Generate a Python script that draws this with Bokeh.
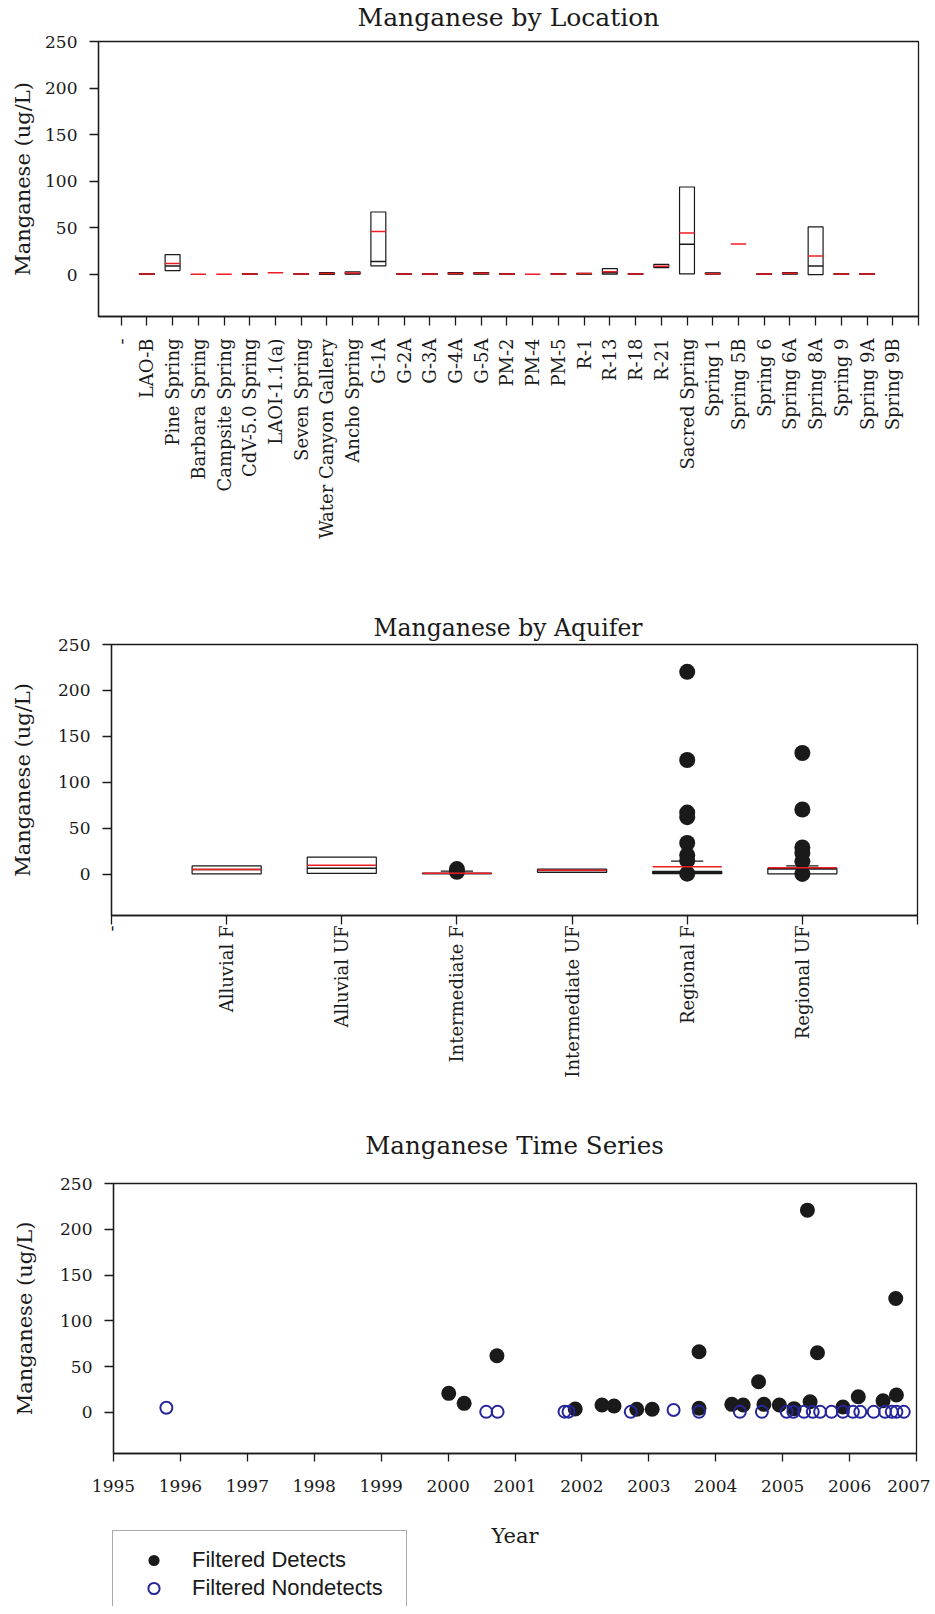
import numpy as np
from bokeh.plotting import figure
from bokeh.models import FixedTicker, Range1d, Label, Legend, LegendItem
from bokeh.embed import file_html
from bokeh.resources import INLINE

SERIF = "DejaVu Serif"
INK = "#1a1a1a"
RED = "#ec1c24"
BLUE = "#26269a"

# ---------------- data: Manganese by Location ----------------
loc_names = ["-", "LAO-B", "Pine Spring", "Barbara Spring", "Campsite Spring",
             "CdV-5.0 Spring", "LAOI-1.1(a)", "Seven Spring", "Water Canyon Gallery",
             "Ancho Spring", "G-1A", "G-2A", "G-3A", "G-4A", "G-5A", "PM-2", "PM-4",
             "PM-5", "R-1", "R-13", "R-18", "R-21", "Sacred Spring", "Spring 1",
             "Spring 5B", "Spring 6", "Spring 6A", "Spring 8A", "Spring 9",
             "Spring 9A", "Spring 9B"]
loc_q1 = [None, 0.2, 4.3, None, None, 0.2, None, 0.3, 0.2, 0.3, 9.3, 0.2, 0.2, 0.5, 0.3,
          0.2, None, 0.3, 0.4, 0.4, 0.2, 7.5, 0.7, 0.3, None, 0.2, 0.5, 0.0, 0.2, 0.3, None]
loc_median = [None, 0.5, 9.3, None, None, 0.5, None, 0.6, 1.0, 1.2, 13.9, 0.5, 0.5, 1.0, 1.2,
              0.5, None, 0.6, 0.8, 2.0, 0.5, 8.5, 32.5, 1.0, None, 0.5, 1.0, 9.3, 0.5, 0.6, None]
loc_q3 = [None, 1.0, 21.4, None, None, 1.0, None, 1.0, 2.0, 3.0, 67.1, 1.0, 1.0, 2.0, 2.2,
          1.0, None, 1.0, 1.4, 6.4, 1.0, 11.0, 93.9, 1.8, None, 1.0, 2.0, 51.1, 1.0, 1.0, None]
loc_mean = [None, 0.6, 11.8, 0.4, 0.4, 0.6, 1.8, 0.7, 1.2, 1.6, 46.1, 0.6, 0.6, 1.2, 1.5,
            0.6, 0.4, 0.7, 1.0, 3.0, 0.6, 9.0, 44.6, 0.8, 32.9, 0.6, 1.5, 20.0, 0.6, 0.7, None]

# ---------------- data: Manganese by Aquifer ----------------
aq_names = ["-", "Alluvial F", "Alluvial UF", "Intermediate F", "Intermediate UF",
            "Regional F", "Regional UF"]
aq_q1 = [None, 0.3, 0.8, 0.5, 2.0, 0.5, 0.3]
aq_median = [None, 5.0, 6.5, 0.7, 4.0, 1.8, 5.5]
aq_q3 = [None, 9.0, 18.5, 1.0, 5.4, 3.0, 6.2]
aq_mean = [None, 5.1, 9.8, 0.9, 4.3, 8.0, 6.9]
aq_upper = [None, 9.0, 18.5, 3.3, 5.4, 14.1, 9.0]
aq_out_group = ["Intermediate F", "Intermediate F",
                "Regional F", "Regional F", "Regional F", "Regional F", "Regional F",
                "Regional F", "Regional F", "Regional F",
                "Regional UF", "Regional UF", "Regional UF", "Regional UF", "Regional UF",
                "Regional UF"]
aq_out_value = [2.5, 5.5,
                220.3, 124.3, 67.0, 62.0, 33.9, 20.6, 15.0, 0.5,
                131.9, 70.4, 29.0, 23.0, 14.0, 0.3]

# ---------------- data: Manganese Time Series ----------------
det_year = [2000.01, 2000.24, 2000.73, 2001.90, 2002.30, 2002.48, 2002.82, 2003.05,
            2003.75, 2003.75, 2004.24, 2004.41, 2004.64, 2004.72, 2004.95, 2005.17,
            2005.37, 2005.41, 2005.52, 2005.90, 2006.13, 2006.50, 2006.69, 2006.70]
det_value = [20.7, 9.8, 61.8, 3.6, 8.0, 6.9, 3.3, 3.3,
             66.2, 4.4, 8.7, 8.0, 33.4, 8.7, 8.0, 4.0,
             220.9, 11.6, 65.1, 5.8, 17.0, 12.7, 124.4, 18.9]
nd_year = [1995.79, 2000.57, 2000.74, 2001.74, 2001.80, 2002.73, 2003.37, 2003.75,
           2004.36, 2004.69, 2005.06, 2005.16, 2005.32, 2005.45, 2005.56, 2005.73,
           2005.90, 2006.05, 2006.16, 2006.36, 2006.53, 2006.63, 2006.70, 2006.81]
nd_value = [5.0, 0.5, 0.5, 0.7, 0.7, 0.5, 2.5, 0.5,
            0.5, 0.5, 0.5, 0.5, 0.5, 0.5, 0.5, 0.5,
            0.5, 0.5, 0.5, 0.5, 0.5, 0.5, 0.5, 0.5]
years = list(range(1995, 2008))
y_ticks = [0, 50, 100, 150, 200, 250]

W = 930


def arr(v):
    return np.array([np.nan if a is None else a for a in v], dtype=float)


def strip_fig(height):
    s = figure(width=W, height=height, x_range=Range1d(0, W), y_range=Range1d(0, height),
               output_backend="svg", toolbar_location=None, tools="",
               x_axis_type=None, y_axis_type=None,
               min_border_top=0, min_border_bottom=0, min_border_left=0, min_border_right=0)
    s.xgrid.visible = False
    s.ygrid.visible = False
    s.outline_line_color = None
    return s


def strip_text(s, text, x, y_from_top, size):
    s.add_layout(Label(x=x, y=s.height - y_from_top, text=text, text_align="center",
                       text_baseline="middle", text_font=SERIF, text_font_size=size,
                       text_color=INK))


def base_fig(height, xr, top, bottom, left, right, title, title_standoff, ylab_standoff,
             title_size="24px", title_align="center", title_offset=0):
    p = figure(width=W, height=height, x_range=Range1d(*xr), y_range=Range1d(-45, 250),
               output_backend="svg", toolbar_location=None, tools="",
               min_border_top=top, min_border_bottom=bottom,
               min_border_left=left, min_border_right=right)
    p.xgrid.visible = False
    p.ygrid.visible = False
    p.outline_line_color = INK
    p.outline_line_width = 1.3
    p.background_fill_color = "white"
    p.border_fill_color = "white"
    p.title.text = title
    p.title.align = title_align
    p.title.offset = title_offset
    p.title.text_font = SERIF
    p.title.text_font_size = title_size
    p.title.text_font_style = "normal"
    p.title.text_color = INK
    p.title.standoff = title_standoff
    for ax in (p.xaxis[0], p.yaxis[0]):
        ax.axis_line_color = INK
        ax.axis_line_width = 1.3
        ax.major_tick_line_color = INK
        ax.major_tick_line_width = 1.3
        ax.major_tick_in = 0
        ax.major_tick_out = 9
        ax.minor_tick_in = 0
        ax.minor_tick_out = 0
        ax.major_label_text_font = SERIF
        ax.major_label_text_font_size = "17px"
        ax.major_label_text_color = INK
        ax.axis_label_text_font = SERIF
        ax.axis_label_text_font_size = "21px"
        ax.axis_label_text_font_style = "normal"
        ax.axis_label_text_color = INK
    yax = p.yaxis[0]
    yax.ticker = FixedTicker(ticks=y_ticks)
    yax.major_label_standoff = 12
    yax.axis_label = "Manganese (ug/L)"
    yax.axis_label_standoff = ylab_standoff
    return p


def draw_boxes(p, names, q1, med, q3, mean, width, upper=None, cap=0.28):
    x = np.arange(len(names), dtype=float)
    q1a, meda, q3a, meana = arr(q1), arr(med), arr(q3), arr(mean)
    m = ~np.isnan(q1a)
    p.vbar(x=x[m], bottom=q1a[m], top=q3a[m], width=width, fill_color=None,
           line_color=INK, line_width=1.2)
    if upper is not None:
        up = arr(upper)
        mw = m & (up > q3a)
        p.segment(x0=x[mw], y0=q3a[mw], x1=x[mw], y1=up[mw], line_color=INK, line_width=1.2)
        p.segment(x0=x[mw] - cap / 2, y0=up[mw], x1=x[mw] + cap / 2, y1=up[mw],
                  line_color=INK, line_width=1.3)
    p.segment(x0=x[m] - width / 2, y0=meda[m], x1=x[m] + width / 2, y1=meda[m],
              line_color=INK, line_width=1.5)
    return x, meana


def draw_means(p, x, meana, width):
    mm = ~np.isnan(meana)
    p.segment(x0=x[mm] - width / 2, y0=meana[mm], x1=x[mm] + width / 2, y1=meana[mm],
              line_color=RED, line_width=1.5)


# ---------------- title strip for figure 1 ----------------
H0 = 33
p0 = strip_fig(H0)
strip_text(p0, "Manganese by Location", 508, 16.5, "25px")

# ---------------- figure 1 ----------------
p1 = base_fig(580 - H0, (-0.88, 31.0), 41 - H0, 264, 98, 12, "", 0, 7)
n1 = len(loc_names)
p1.xaxis[0].ticker = FixedTicker(ticks=list(range(n1 + 1)))
ov1 = {i: nm for i, nm in enumerate(loc_names)}
ov1[n1] = ""
p1.xaxis[0].major_label_overrides = ov1
p1.xaxis[0].major_label_orientation = np.pi / 2
p1.xaxis[0].major_label_standoff = 13
p1.xaxis[0].major_label_text_font_size = "18px"
x1, mean1 = draw_boxes(p1, loc_names, loc_q1, loc_median, loc_q3, loc_mean, 0.58)
draw_means(p1, x1, mean1, 0.6)

# ---------------- figure 2 ----------------
p2 = base_fig(540, (0, 7), 64, 205, 111, 13, "Manganese by Aquifer", 5, 20,
              title_size="23.5px", title_align="left", title_offset=262)
n2 = len(aq_names)
p2.xaxis[0].ticker = FixedTicker(ticks=list(range(n2 + 1)))
ov2 = {i: nm for i, nm in enumerate(aq_names)}
ov2[n2] = ""
p2.xaxis[0].major_label_overrides = ov2
p2.xaxis[0].major_label_orientation = np.pi / 2
p2.xaxis[0].major_label_standoff = 1
p2.xaxis[0].major_label_text_font_size = "18px"
x2, mean2 = draw_boxes(p2, aq_names, aq_q1, aq_median, aq_q3, aq_mean, 0.6, upper=aq_upper)
ox = [aq_names.index(g) for g in aq_out_group]
p2.scatter(x=ox, y=aq_out_value, size=16, marker="circle", fill_color=INK, line_color=None)
draw_means(p2, x2, mean2, 0.6)

# ---------------- title strip for figure 3 ----------------
H3T = 45
p3t = strip_fig(H3T)
strip_text(p3t, "Manganese Time Series", 514, 25, "24.5px")

# ---------------- figure 3 ----------------
p3 = base_fig(390 - H3T, (1995, 2007), 63 - H3T, 57, 113, 14, "", 0, 20)
p3.xaxis[0].ticker = FixedTicker(ticks=years)
p3.xaxis[0].major_tick_out = 8
p3.xaxis[0].major_label_standoff = 18
r_det = p3.scatter(x=det_year, y=det_value, size=15, marker="circle",
                   fill_color=INK, line_color=None)
r_nd = p3.scatter(x=nd_year, y=nd_value, size=12, marker="circle",
                  fill_color=None, line_color=BLUE, line_width=2)

# ---------------- figure 4: axis title + legend strip ----------------
H4 = 96
p4 = strip_fig(H4)
strip_text(p4, "Year", 514.5, 25, "21px")
leg_det = p4.scatter(x=[np.nan], y=[np.nan], size=15, marker="circle",
                     fill_color=INK, line_color=None)
leg_nd = p4.scatter(x=[np.nan], y=[np.nan], size=12, marker="circle",
                    fill_color=None, line_color=BLUE, line_width=2)
legend = Legend(items=[LegendItem(label="Filtered Detects", renderers=[leg_det]),
                       LegendItem(label="Filtered Nondetects", renderers=[leg_nd])],
                location=(112, -12), orientation="vertical", padding=15, spacing=0,
                margin=0, glyph_width=51, glyph_height=28, label_height=28,
                label_width=199, label_standoff=13, label_text_font="Liberation Sans",
                label_text_font_size="22px", label_text_color=INK,
                border_line_color="#555555", border_line_width=1,
                background_fill_color="white", background_fill_alpha=1.0)
p4.add_layout(legend)

open("out.html", "w").write(file_html([p0, p1, p2, p3t, p3, p4], INLINE))
